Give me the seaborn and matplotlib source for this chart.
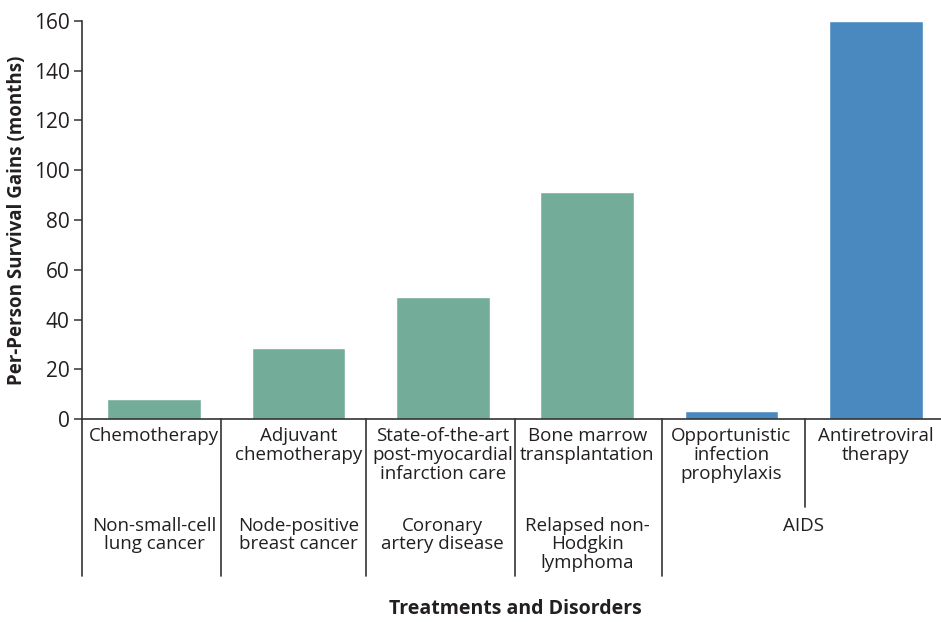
import matplotlib
matplotlib.use("Agg")
import matplotlib.pyplot as plt
import seaborn as sns
import pandas as pd

# data
treatments = ["Chemotherapy", "Adjuvant\nchemotherapy", "State-of-the-art\npost-myocardial\ninfarction care",
              "Bone marrow\ntransplantation", "Opportunistic\ninfection\nprophylaxis", "Antiretroviral\ntherapy"]
gains = [8, 28.5, 49, 91.3, 3.2, 160]
disorders = ["Non-small-cell\nlung cancer", "Node-positive\nbreast cancer", "Coronary\nartery disease",
             "Relapsed non-\nHodgkin\nlymphoma"]
disorder_pos = [0, 1, 2, 3]
aids_label = "AIDS"
aids_pos = 4.5

green = "#73ad9a"
blue = "#4a89bf"
colors = [green, green, green, green, blue, blue]

sns.set_style("white")
plt.rcParams["font.family"] = ["Open Sans", "DejaVu Sans"]
txt = "#231f20"

df = pd.DataFrame({"treatment": treatments, "gain": gains})

fig = plt.figure(figsize=(9.41, 6.22), dpi=100)
W, H = 941, 622
ax = fig.add_axes([82 / W, 203 / H, 866 / W, 398 / H])

sns.barplot(data=df, x="treatment", y="gain", hue="treatment", palette=colors,
            legend=False, width=0.65, saturation=1, ax=ax)

ax.set_xlim(-0.5, 5.5)
ax.set_ylim(0, 160)
ax.set_yticks(range(0, 161, 20))
ax.tick_params(axis="y", left=True, length=6, width=1.1, color="#333333",
               labelsize=15, labelcolor=txt, pad=3)
ax.tick_params(axis="x", bottom=False, length=0, labelsize=13.5, labelcolor=txt, pad=6)

sns.despine(ax=ax)
for s in ["left", "bottom"]:
    ax.spines[s].set_color("#333333")
    ax.spines[s].set_linewidth(1.2)

# second row: disorders
tr = ax.get_xaxis_transform()
for p, d in zip(disorder_pos, disorders):
    ax.text(p, -0.245, d, transform=tr, ha="center", va="top", fontsize=13.5,
            color=txt, linespacing=1.05)
ax.text(aids_pos, -0.245, aids_label, transform=tr, ha="center", va="top",
        fontsize=13.5, color=txt)

# separators
for xs in [-0.5, 0.46, 1.47, 2.5, 3.52]:
    ax.plot([xs, xs], [0, -0.395], transform=tr, color="#333333", lw=1.2, clip_on=False)
ax.plot([4.51, 4.51], [0, -0.222], transform=tr, color="#333333", lw=1.2, clip_on=False)

for lab in ax.get_xticklabels():
    lab.set_linespacing(1.05)

ax.set_xlabel("Treatments and Disorders", fontsize=14, fontweight="bold", color=txt)
ax.xaxis.set_label_coords(0.5, -(609 - 419) / 398)
ax.xaxis.label.set_va("center")
ax.set_ylabel("Per-Person Survival Gains (months)", fontsize=13.5, fontweight="bold", color=txt)
ax.yaxis.set_label_coords(-(82 - 27) / 866, 0.5)

fig.savefig("out.png", dpi=100)
